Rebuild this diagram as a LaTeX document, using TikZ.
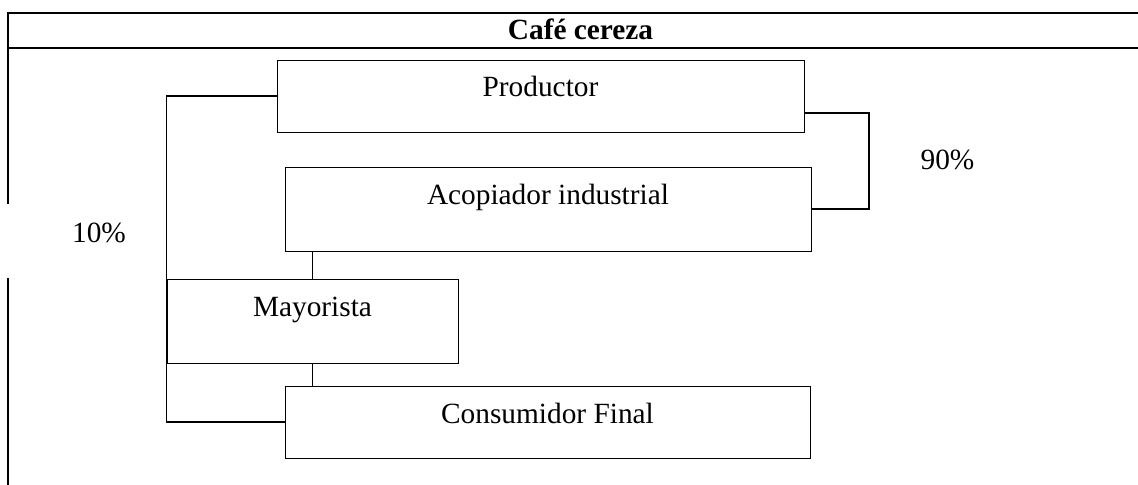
\documentclass[tikz,border=0pt]{standalone}
\usepackage{fontspec}
\setmainfont{Liberation Serif}

\begin{document}
\begin{tikzpicture}[x=0.75pt, y=-0.75pt,
	every node/.style={font=\fontsize{22pt}{26pt}\selectfont},
	box/.style={draw, line width=0.6pt, inner xsep=0pt, inner ysep=0pt, text height=27.75pt},
	link/.style={line width=1pt},
	frame/.style={line width=1pt}]
				\useasboundingbox (0,0) rectangle (1138,485);
				\draw[frame] (1138,13) -- (8,13) -- (8,204); \draw[frame] (8,48) -- (1138,48);
				\draw[frame] (8,278) -- (8,485);
				\node[anchor=base, font=\fontsize{22pt}{26pt}\selectfont\bfseries] (head) at (580.5,40)
				{Café cereza};
				\node[box, minimum width=395.25pt, text depth=26.25pt] (prod) at (540.5,96)
				{Productor};
				\node[box, minimum width=394.5pt, text depth=35.25pt] (acop) at (548,209)
				{Acopiador industrial};
				\node[box, minimum width=218.25pt, text depth=35.25pt] (may) at (312.5,321)
				{Mayorista};
				\node[box, minimum width=393.75pt, text depth=26.25pt] (cons) at (547.5,422)
				{Consumidor Final};
				\coordinate (b90) at (869,113);
				\node[anchor=base] (p90) at (947.5,169) {90\%};
				\node[anchor=base] (p10) at (99,242) {10\%};
				\draw[link] (prod.west) -| (may.west) |- (cons.west);
				\draw[link] (prod.east |- b90) -- (b90) |- (acop.east);
				\draw[link] (acop.south -| may.north) -- (may.north);
				\draw[link] (may.south) -- (may.south |- cons.north);
			\end{tikzpicture}
\end{document}
